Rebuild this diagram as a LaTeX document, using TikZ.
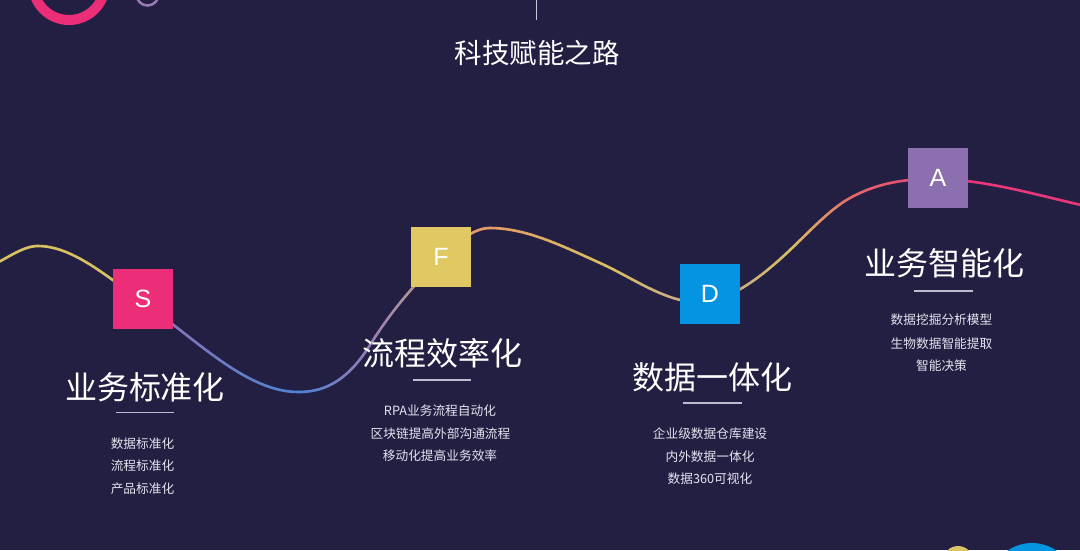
\documentclass[tikz,border=0pt]{standalone}
\usepackage{fontspec}
\setmainfont{Noto Sans CJK SC}
\newfontfamily\letterfont{Liberation Sans}
\definecolor{bg}{HTML}{231F43}
\definecolor{boxS}{HTML}{EC2E78}
\definecolor{boxF}{HTML}{E0C862}
\definecolor{boxD}{HTML}{0494E2}
\definecolor{boxA}{HTML}{8B6FAE}
\definecolor{rulecol}{HTML}{BDBBD0}
\definecolor{subcol}{HTML}{E4E3EE}
\definecolor{wy}{HTML}{D8C160}
\definecolor{wpurple}{HTML}{8E73B2}
\definecolor{wblue}{HTML}{4B84D6}
\definecolor{wpurpleb}{HTML}{9A7DB5}
\definecolor{wtan}{HTML}{BFA77E}
\definecolor{worange}{HTML}{E29A68}
\definecolor{wtanb}{HTML}{C4A396}
\definecolor{wcoral}{HTML}{E46C6C}
\definecolor{wpink}{HTML}{E8387A}
\definecolor{ringpink}{HTML}{EC2E78}
\definecolor{ringpurple}{HTML}{9A7BB8}
\definecolor{dotyellow}{HTML}{D9C362}
\definecolor{dotblue}{HTML}{0495E0}
\definecolor{vline}{HTML}{C8C6D6}
\tikzset{
  wave/.style={line width=2.6pt, line cap=round},
  letterbox/.style={minimum width=60pt, minimum height=60pt, inner sep=0pt, text=white, font=\letterfont\fontsize{25}{25}\selectfont},
  titletxt/.style={text=white, inner sep=0pt, font=\fontsize{27.5}{27.5}\selectfont},
  bigtxt/.style={text=white, inner sep=0pt, font=\fontsize{32}{32}\selectfont},
  subtxt/.style={text=subcol, inner sep=0pt, font=\fontsize{12.7}{12.7}\selectfont},
  ruleline/.style={draw=rulecol, line width=1.2pt},
}
\newcommand\wavepiece[6]{%
  \path #1 .. controls #2 and #3 .. #4
    foreach \k in {0,...,24}{coordinate[pos=\k/24] (wq\k)};
  \foreach \k [evaluate=\k as \kn using int(\k+1), evaluate=\k as \pc using int(98-4*\k)] in {0,...,23}
    {\draw[wave, draw=#5!\pc!#6] (wq\k) -- (wq\kn);}%
}
\begin{document}
\begin{tikzpicture}[x=1pt,y=-1pt]
\useasboundingbox (0,0) rectangle (1080,550);
\clip (0,0) rectangle (1080,550);
\fill[bg] (0,0) rectangle (1080,550);

% decorative circles
\draw[draw=ringpink, line width=10pt] (69,-16) circle[radius=36];
\draw[draw=ringpurple, line width=2.5pt] (147.5,-5.5) circle[radius=11];
\fill[dotyellow] (958,561) circle[radius=15];
\fill[dotblue] (1032,586) circle[radius=43];

% top line and title
\coordinate (vtop) at (536,0);
\coordinate (vbot) at (536,20);
\draw[draw=vline, line width=1pt] (vtop) -- (vbot);
\node[titletxt] (title) at (537,53) {科技赋能之路};

% wave
\wavepiece{(-10,266)}{(6,259.6)}{(22,246)}{(38,246)}{wy}{wy}
\wavepiece{(38,246)}{(73,246)}{(108,277.5)}{(143,302)}{wy}{wy}
\wavepiece{(143,302)}{(194.67,338.2)}{(246.33,392)}{(298,392)}{wpurple}{wblue}
\wavepiece{(298,392)}{(322,392)}{(346,383.4)}{(370,345)}{wblue}{wpurpleb}
\wavepiece{(370,345)}{(393.67,307.1)}{(417.33,281.7)}{(441,258)}{wpurpleb}{wtan}
\wavepiece{(441,258)}{(457.33,241.67)}{(473.67,228)}{(490,228)}{worange}{worange}
\wavepiece{(490,228)}{(526.67,228)}{(563.33,246.5)}{(600,263)}{worange}{wy}
\wavepiece{(600,263)}{(636.67,279.5)}{(673.33,308.3)}{(710,301)}{wy}{wtanb}
\wavepiece{(710,301)}{(736.67,295.67)}{(763.33,275.3)}{(790,250)}{wtanb}{wy}
\wavepiece{(790,250)}{(810,231)}{(830,209)}{(850,198)}{wy}{wcoral}
\wavepiece{(850,198)}{(879.33,181.9)}{(908.67,178.4)}{(938,179)}{wcoral}{wpink}
\wavepiece{(938,179)}{(988.67,180)}{(1039.33,195.9)}{(1090,207)}{wpink}{wpink}

% boxes
\node[letterbox, fill=boxS] (bS) at (143,299) {S};
\node[letterbox, fill=boxF] (bF) at (441,257) {F};
\node[letterbox, fill=boxD] (bD) at (710,294) {D};
\node[letterbox, fill=boxA] (bA) at (938,178) {A};

% S
\node[bigtxt] (tS) at (145,387) {业务标准化};
\draw[ruleline] (116,412.5) -- (174,412.5);
\node[subtxt] (s1) at (142.5,443.5) {数据标准化};
\node[subtxt] (s2) at (142.5,466) {流程标准化};
\node[subtxt] (s3) at (142.5,488.5) {产品标准化};

% F
\node[bigtxt] (tF) at (442,353) {流程效率化};
\draw[ruleline] (413,380) -- (471,380);
\node[subtxt] (f1) at (440,411) {RPA业务流程自动化};
\node[subtxt] (f2) at (440.5,434) {区块链提高外部沟通流程};
\node[subtxt] (f3) at (440,456) {移动化提高业务效率};

% D
\node[bigtxt] (tD) at (712,377) {数据一体化};
\draw[ruleline] (683,403) -- (742,403);
\node[subtxt] (d1) at (710,433.5) {企业级数据仓库建设};
\node[subtxt] (d2) at (710,456.5) {内外数据一体化};
\node[subtxt] (d3) at (710,479) {数据360可视化};

% A
\node[bigtxt] (tA) at (944,263) {业务智能化};
\draw[ruleline] (914,291) -- (973,291);
\node[subtxt] (a1) at (941.5,320) {数据挖掘分析模型};
\node[subtxt] (a2) at (941.5,343.5) {生物数据智能提取};
\node[subtxt] (a3) at (941.5,365.5) {智能决策};
\end{tikzpicture}
\end{document}
